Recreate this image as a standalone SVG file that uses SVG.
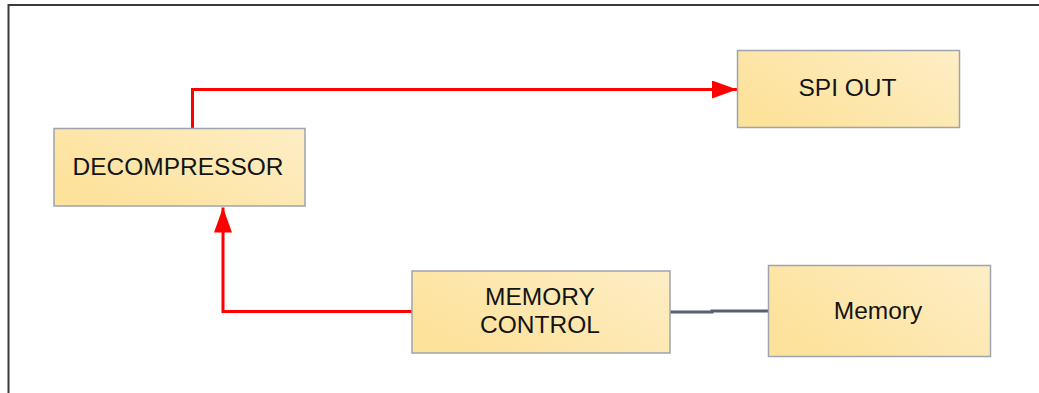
<svg xmlns="http://www.w3.org/2000/svg" width="1039" height="393" viewBox="0 0 1039 393">
  <defs>
    <linearGradient id="boxfill" x1="0" y1="0.6" x2="1" y2="0">
      <stop offset="0" stop-color="#fde29c"/>
      <stop offset="1" stop-color="#feeec6"/>
    </linearGradient>
    <marker id="redarrow" viewBox="0 0 25 18" refX="25" refY="9" markerWidth="25" markerHeight="18" markerUnits="userSpaceOnUse" orient="auto">
      <path d="M0,0 L25,9 L0,18 Z" fill="#ff0000"/>
    </marker>
    <style>
      .box { fill: url(#boxfill); stroke: #9ea3ae; stroke-width: 1.5; }
      .lbl { font-family: "Liberation Sans", Arial, sans-serif; font-size: 24.5px; fill: #141414; text-anchor: middle; }
      .red { fill: none; stroke: #ff0000; stroke-width: 3; }
      .gray { fill: none; stroke: #566070; stroke-width: 3; }
      .frame { fill: none; stroke: #3a3a3a; stroke-width: 2; }
    </style>
  </defs>
  <rect width="1039" height="393" fill="#ffffff"/>
  <path class="frame" d="M8.5,393 L8.5,5 L1039,5"/>

  <g id="connectors">
    <path class="red" d="M192.5,128 L192.5,89.5 L737,89.5" marker-end="url(#redarrow)"/>
    <path class="red" d="M412,311.5 L223,311.5 L223,207.5" marker-end="url(#redarrow)"/>
    <path class="gray" d="M670,312 L712,312 L712,311 L768.5,311"/>
  </g>

  <g id="decompressor">
    <rect class="box" x="54" y="128.5" width="251" height="77.5"/>
    <text class="lbl" x="178" y="174.5">DECOMPRESSOR</text>
  </g>
  <g id="spi-out">
    <rect class="box" x="737.5" y="50.5" width="222" height="77"/>
    <text class="lbl" x="847.5" y="95.5">SPI OUT</text>
  </g>
  <g id="memory-control">
    <rect class="box" x="412" y="271" width="258" height="82"/>
    <text class="lbl" x="540" y="304.5">MEMORY</text>
    <text class="lbl" x="540" y="333">CONTROL</text>
  </g>
  <g id="memory">
    <rect class="box" x="768.5" y="265.5" width="222" height="91"/>
    <text class="lbl" x="878" y="319">Memory</text>
  </g>
</svg>
